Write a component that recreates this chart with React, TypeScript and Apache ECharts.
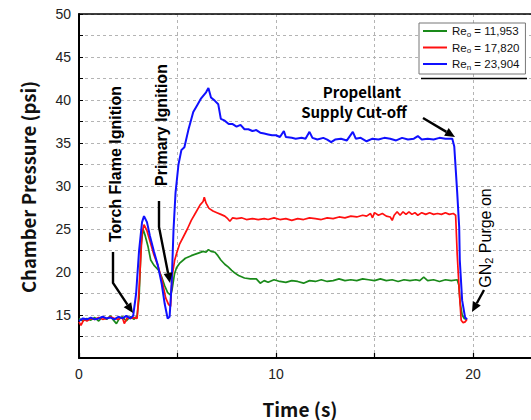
import React, { useEffect, useRef } from "react";
import * as echarts from "echarts";

// ---- data (time s, chamber pressure psi) ----
const seriesNames = ["Re_o = 11,953", "Re_o = 17,820", "Re_n = 23,904"];
const legendRich = [
  "{n|Re}{s|o}{n| = 11,953}",
  "{n|Re}{s|o}{n| = 17,820}",
  "{n|Re}{s|n}{n| = 23,904}",
];
const seriesColors = ["#1a8a1a", "#ff1010", "#1010ff"];

const greenData: [number, number][] = [
  [0, 14.6], [0.2, 14.3], [0.4, 14.6], [0.6, 14.4], [0.8, 14.7], [1.0, 14.3], [1.2, 14.8], [1.4, 14.5],
  [1.6, 14.9], [1.75, 14.4], [1.9, 14.0], [2.05, 14.6], [2.2, 14.8], [2.4, 14.3], [2.6, 14.8], [2.8, 14.5],
  [2.95, 14.9], [3.05, 17.0], [3.15, 23.0], [3.25, 25.0], [3.35, 24.3], [3.5, 23.0], [3.64, 21.4], [3.8, 20.8],
  [4.04, 20.2], [4.2, 19.4], [4.35, 18.4], [4.5, 17.6], [4.65, 17.3], [4.72, 17.9], [4.85, 19.8], [4.95, 20.5],
  [5.1, 21.0], [5.4, 21.6], [5.7, 21.9], [6.06, 22.2], [6.3, 22.4], [6.45, 22.3], [6.57, 22.6], [6.7, 22.4],
  [6.9, 22.3], [7.05, 21.9], [7.2, 21.4], [7.4, 20.9], [7.57, 20.6], [7.75, 20.2], [7.9, 19.9], [8.1, 19.6],
  [8.4, 19.3], [8.7, 19.2], [9.0, 19.2], [9.2, 18.7], [9.4, 19.0], [9.6, 18.8], [9.9, 19.1], [10.2, 18.9],
  [10.5, 18.8], [10.8, 19.0], [11.1, 18.9], [11.4, 18.7], [11.7, 19.0], [12.0, 18.9], [12.3, 19.1], [12.6, 18.9],
  [12.9, 19.0], [13.2, 19.2], [13.5, 19.0], [13.8, 19.1], [14.1, 19.0], [14.4, 19.2], [14.7, 19.1], [15.0, 19.0],
  [15.3, 19.2], [15.6, 19.0], [15.9, 19.1], [16.2, 18.9], [16.5, 19.1], [16.8, 19.0], [17.1, 19.1], [17.3, 19.0],
  [17.5, 19.4], [17.7, 19.0], [18.0, 19.1], [18.3, 18.9], [18.6, 19.1], [18.9, 19.0], [19.2, 19.1], [19.28, 18.5],
  [19.35, 16.4], [19.45, 15.0], [19.55, 14.6], [19.65, 14.5],
];

const redData: [number, number][] = [
  [0, 14.2], [0.1, 13.8], [0.25, 14.5], [0.4, 14.3], [0.6, 14.6], [0.8, 14.5], [1.0, 14.7], [1.2, 14.5],
  [1.4, 14.6], [1.6, 14.8], [1.8, 14.6], [2.0, 14.5], [2.2, 14.7], [2.3, 14.0], [2.45, 14.7], [2.6, 14.6],
  [2.8, 14.7], [2.95, 14.6], [3.05, 18.0], [3.2, 24.5], [3.3, 25.5], [3.45, 24.8], [3.6, 23.6], [3.8, 22.0],
  [4.0, 20.8], [4.2, 19.2], [4.4, 17.0], [4.55, 16.2], [4.65, 16.0], [4.72, 19.4], [4.85, 21.3], [4.96, 22.2],
  [5.1, 23.2], [5.3, 24.1], [5.5, 25.0], [5.7, 26.0], [5.9, 26.8], [6.15, 27.8], [6.3, 28.2], [6.36, 28.7],
  [6.45, 28.0], [6.6, 27.4], [6.8, 27.1], [7.0, 26.9], [7.2, 26.7], [7.4, 26.5], [7.55, 26.2], [7.66, 25.9],
  [7.8, 26.3], [8.0, 26.2], [8.25, 26.3], [8.5, 26.1], [8.8, 26.2], [9.1, 26.1], [9.4, 26.2], [9.6, 26.1],
  [9.9, 26.3], [10.2, 26.1], [10.5, 26.2], [10.8, 26.0], [11.1, 26.2], [11.4, 26.1], [11.7, 26.3], [12.0, 26.2],
  [12.3, 26.1], [12.6, 26.3], [12.9, 26.2], [13.2, 26.4], [13.5, 26.3], [13.8, 26.5], [14.1, 26.4], [14.4, 26.6],
  [14.6, 26.5], [14.8, 26.8], [14.9, 26.3], [15.0, 26.9], [15.2, 26.6], [15.4, 26.8], [15.6, 26.5], [15.8, 26.4],
  [15.9, 26.0], [16.0, 26.6], [16.15, 27.0], [16.3, 26.6], [16.45, 27.0], [16.6, 26.7], [16.75, 27.0], [16.9, 26.7],
  [17.05, 26.9], [17.2, 26.6], [17.4, 26.9], [17.6, 26.7], [17.8, 26.9], [18.0, 26.7], [18.2, 26.8], [18.4, 26.7],
  [18.6, 26.9], [18.8, 26.7], [19.0, 26.8], [19.12, 26.6], [19.2, 22.0], [19.3, 17.9], [19.4, 14.4], [19.5, 14.1],
  [19.6, 14.2], [19.7, 14.5],
];

const blueData: [number, number][] = [
  [0, 14.3], [0.2, 14.6], [0.4, 14.5], [0.6, 14.7], [0.8, 14.5], [1.0, 14.6], [1.2, 14.8], [1.4, 14.6],
  [1.6, 14.7], [1.8, 14.5], [2.0, 14.8], [2.2, 14.6], [2.4, 14.9], [2.6, 14.6], [2.75, 14.9], [2.9, 17.5],
  [3.05, 22.5], [3.2, 25.8], [3.3, 26.5], [3.45, 25.8], [3.6, 24.2], [3.8, 22.4], [4.0, 20.8], [4.2, 18.6],
  [4.35, 16.3], [4.5, 14.6], [4.6, 14.8], [4.7, 18.5], [4.8, 25.0], [4.9, 29.2], [5.05, 32.5], [5.2, 34.2],
  [5.35, 34.5], [5.55, 36.5], [5.8, 38.6], [6.0, 39.4], [6.2, 40.2], [6.45, 40.9], [6.57, 41.4], [6.7, 40.3],
  [6.9, 39.9], [7.07, 39.5], [7.2, 37.8], [7.4, 37.6], [7.6, 37.2], [7.8, 37.2], [8.0, 36.9], [8.2, 37.1],
  [8.4, 36.6], [8.6, 36.6], [8.8, 36.4], [9.0, 36.5], [9.2, 36.2], [9.4, 36.1], [9.6, 36.0], [9.8, 35.9],
  [10.0, 35.9], [10.2, 35.7], [10.4, 36.4], [10.5, 35.7], [10.8, 35.6], [11.0, 35.5], [11.3, 35.6], [11.5, 35.5],
  [11.7, 36.3], [11.85, 35.6], [12.1, 35.4], [12.4, 35.6], [12.6, 35.4], [12.8, 35.1], [13.0, 35.4], [13.3, 35.5],
  [13.6, 35.3], [13.9, 36.3], [14.05, 35.5], [14.3, 35.6], [14.6, 35.2], [14.9, 35.5], [15.2, 35.4], [15.5, 35.6],
  [15.8, 35.5], [16.1, 35.3], [16.4, 35.6], [16.7, 35.4], [17.0, 35.5], [17.2, 35.8], [17.4, 35.4], [17.7, 35.5],
  [18.0, 35.4], [18.3, 35.6], [18.6, 35.5], [18.95, 35.5], [19.05, 34.6], [19.15, 31.0], [19.2, 29.2], [19.3, 25.2],
  [19.33, 21.4], [19.45, 16.7], [19.6, 14.7], [19.7, 14.5],
];

const xMin = 0;
const xMax = 23.25;
const yMin = 10;
const yMax = 50;

function arrow(pts: number[][]) {
  const [x1, y1] = pts[pts.length - 2];
  const [x2, y2] = pts[pts.length - 1];
  const a = Math.atan2(y2 - y1, x2 - x1);
  const L = 10;
  const W = 4.5;
  const bx = x2 - L * Math.cos(a);
  const by = y2 - L * Math.sin(a);
  const head = [
    [x2, y2],
    [bx + W * Math.sin(a), by - W * Math.cos(a)],
    [bx - W * Math.sin(a), by + W * Math.cos(a)],
  ];
  const shaft = [...pts.slice(0, -1), [bx, by]];
  return [
    { type: "polyline", shape: { points: shaft }, style: { stroke: "#000", lineWidth: 2.4, fill: null }, z: 50 },
    { type: "polygon", shape: { points: head }, style: { fill: "#000" }, z: 50 },
  ];
}

export default function App() {
  const ref = useRef<HTMLDivElement>(null);
  useEffect(() => {
    if (!ref.current) return;
    const chart = echarts.init(ref.current, undefined, { renderer: "svg" });
    const gridLine = { show: true, lineStyle: { color: "#b4b4b4", type: [3, 3], width: 1 } };
    const option: any = {
      animation: false,
      backgroundColor: "#fff",
      grid: { left: 79, top: 14, right: 0, bottom: 62 },
      xAxis: [
        {
          type: "value",
          min: xMin,
          max: xMax,
          interval: 5,
          axisLine: { show: true, lineStyle: { color: "#000", width: 2 } },
          axisTick: { show: true, inside: true, length: 5, lineStyle: { color: "#000", width: 1.2 } },
          axisLabel: {
            formatter: (v: number) => (v % 10 === 0 ? String(v) : ""),
            margin: 9,
            fontSize: 14,
            color: "#222",
            fontFamily: "Liberation Sans",
          },
          splitLine: gridLine,
        },
        {
          type: "value",
          position: "top",
          min: xMin,
          max: xMax,
          axisLine: { show: true, onZero: false, lineStyle: { color: "#000", width: 1.5 } },
          axisTick: { show: false },
          axisLabel: { show: false },
          splitLine: { show: false },
        },
      ],
      yAxis: {
        type: "value",
        min: yMin,
        max: yMax,
        interval: 2.5,
        axisLine: { show: true, lineStyle: { color: "#000", width: 2 } },
        axisTick: { show: true, inside: true, length: 4, lineStyle: { color: "#000", width: 1 } },
        axisLabel: {
          formatter: (v: number) => (v % 5 === 0 && v > yMin ? String(v) : ""),
          margin: 8,
          fontSize: 14,
          color: "#222",
          fontFamily: "Liberation Sans",
        },
        splitLine: gridLine,
      },
      legend: {
        orient: "vertical",
        left: 419,
        top: 23,
        padding: [2, 6, 3, 4],
        itemGap: 3.5,
        itemWidth: 24,
        itemHeight: 2,
        icon: "rect",
        backgroundColor: "#fff",
        borderColor: "#777",
        borderWidth: 1,
        data: seriesNames,
        formatter: (name: string) => legendRich[seriesNames.indexOf(name)],
        textStyle: {
          padding: [0, 0, 0, 0],
          rich: {
            n: { fontSize: 11.5, fontFamily: "Liberation Sans", color: "#111", lineHeight: 14 },
            s: { fontSize: 8, fontFamily: "Liberation Sans", color: "#111", lineHeight: 8, verticalAlign: "bottom" },
          },
        },
      },
      series: [greenData, redData, blueData].map((d, i) => ({
        type: "line",
        name: seriesNames[i],
        data: d,
        showSymbol: false,
        symbol: "none",
        color: seriesColors[i],
        lineStyle: { color: seriesColors[i], width: i === 2 ? 2 : 1.7 },
        z: 10 + i,
      })),
      graphic: [
        {
          type: "line",
          shape: { x1: 421, y1: 78.5, x2: 527, y2: 78.5 },
          style: { stroke: "#000", lineWidth: 1.5 },
          z: 60,
        },
        {
          type: "text",
          x: 28,
          y: 187,
          rotation: Math.PI / 2,
          style: {
            text: "Chamber Pressure (psi)",
            font: "bold 18.5px 'Noto Sans CJK KR'",
            fill: "#111",
            textAlign: "center",
            textVerticalAlign: "middle",
          },
        },
        {
          type: "text",
          x: 300,
          y: 408,
          style: {
            text: "Time (s)",
            font: "bold 19px 'Noto Sans CJK KR'",
            fill: "#111",
            textAlign: "center",
            textVerticalAlign: "middle",
          },
        },
        {
          type: "text",
          x: 115,
          y: 164,
          rotation: Math.PI / 2,
          z: 50,
          style: {
            text: "Torch Flame Ignition",
            font: "bold 16px 'Liberation Sans'",
            fill: "#000",
            textAlign: "center",
            textVerticalAlign: "middle",
          },
        },
        {
          type: "text",
          x: 161,
          y: 125,
          rotation: Math.PI / 2,
          z: 50,
          style: {
            text: "Primary Ignition",
            font: "bold 16px 'Liberation Sans'",
            fill: "#000",
            textAlign: "center",
            textVerticalAlign: "middle",
          },
        },
        {
          type: "text",
          x: 362,
          y: 91,
          z: 50,
          style: {
            text: "Propellant",
            font: "bold 15px 'Noto Sans CJK KR'",
            fill: "#000",
            textAlign: "center",
            textVerticalAlign: "middle",
          },
        },
        {
          type: "text",
          x: 354,
          y: 111,
          z: 50,
          style: {
            text: "Supply Cut-off",
            font: "bold 15px 'Noto Sans CJK KR'",
            fill: "#000",
            textAlign: "center",
            textVerticalAlign: "middle",
          },
        },
        {
          type: "text",
          x: 485,
          y: 238,
          rotation: Math.PI / 2,
          z: 50,
          style: {
            text: "{a|GN}{s|2}{a| Purge on}",
            textAlign: "center",
            textVerticalAlign: "middle",
            rich: {
              a: { font: "16px 'Liberation Sans'", fill: "#000", lineHeight: 19 },
              s: { font: "11px 'Liberation Sans'", fill: "#000", lineHeight: 11, verticalAlign: "bottom" },
            },
          },
        },
        ...arrow([[113, 252], [113, 283], [133, 313]]),
        ...arrow([[159, 201], [159, 227], [170, 283]]),
        ...arrow([[423, 118], [455, 137]]),
        ...arrow([[484, 290], [472, 312]]),
      ],
    };
    chart.setOption(option);
    return () => chart.dispose();
  }, []);
  return (
    <div style={{ position: "absolute", left: 0, top: 0, width: 531, height: 420, overflow: "hidden" }}>
      <div ref={ref} style={{ width: 540, height: 420 }} />
    </div>
  );
}
